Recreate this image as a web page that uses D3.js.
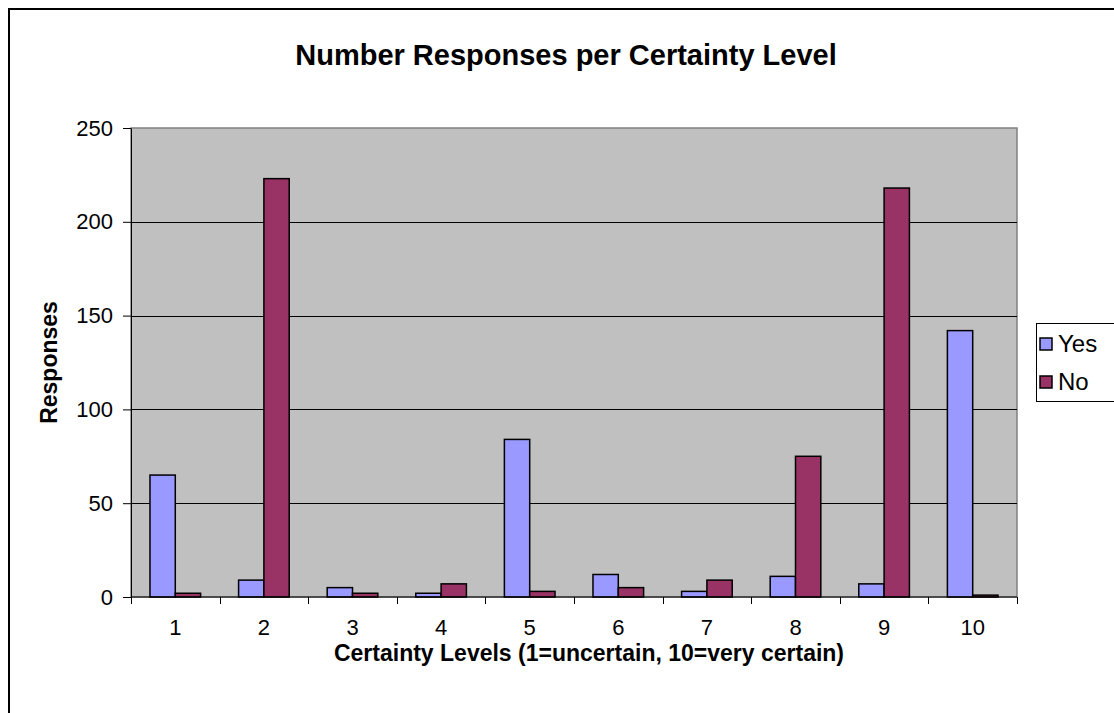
<!DOCTYPE html>
<html>
<head>
<meta charset="utf-8">
<script src="https://cdn.jsdelivr.net/npm/d3@7"></script>
<style>
  body { margin: 0; background: #ffffff; }
  #chart { width: 1114px; height: 713px; overflow: hidden; }
</style>
</head>
<body>
<div id="chart"></div>
<script>
const levels = ["1", "2", "3", "4", "5", "6", "7", "8", "9", "10"];
const seriesNames = ["Yes", "No"];
const yesValues = [65, 9, 5, 2, 84, 12, 3, 11, 7, 142];
const noValues = [2, 223, 2, 7, 3, 5, 9, 75, 218, 1];
const yTicks = [0, 50, 100, 150, 200, 250];

const colors = {Yes: "#9999ff", No: "#993366"};
const font = "Arial, 'Liberation Sans', sans-serif";

const margin = {top: 128, right: 97, bottom: 116, left: 131},
  width = 1114 - margin.left - margin.right,
  height = 713 - margin.top - margin.bottom;

const root = d3.select("#chart")
  .append("svg")
  .attr("width", 1114)
  .attr("height", 713);

// outer chart border (runs off the right and bottom edges)
root.append("rect")
  .attr("x", 9)
  .attr("y", 9)
  .attr("width", 1200)
  .attr("height", 800)
  .attr("fill", "#ffffff")
  .attr("stroke", "#000000")
  .attr("stroke-width", 2);

const svg = root.append("g")
  .attr("transform", `translate(${margin.left},${margin.top})`);

// title
root.append("text")
  .attr("x", 566)
  .attr("y", 65)
  .attr("text-anchor", "middle")
  .style("font-family", font)
  .style("font-size", "29px")
  .style("font-weight", "bold")
  .style("fill", "#000000")
  .text("Number Responses per Certainty Level");

const data = levels.map((l, i) => ({level: l, Yes: yesValues[i], No: noValues[i]}));

const x = d3.scaleBand()
  .domain(levels)
  .range([0, width])
  .padding(0);

// gap width 150% like the original
const xs = d3.scaleBand()
  .domain(seriesNames)
  .range([0, x.bandwidth()])
  .paddingInner(0)
  .paddingOuter(0.75);

const y = d3.scaleLinear()
  .domain([0, 250])
  .range([height, 0]);

// plot background
svg.append("rect")
  .attr("width", width)
  .attr("height", height)
  .attr("fill", "#c0c0c0")
  .attr("stroke", "#808080")
  .attr("stroke-width", 1.5);

// gridlines
svg.append("g")
  .selectAll("line")
  .data(yTicks.filter(t => t > 0 && t < 250))
  .enter()
  .append("line")
  .attr("x1", 0)
  .attr("x2", width)
  .attr("y1", d => Math.round(y(d)) + 0.5)
  .attr("y2", d => Math.round(y(d)) + 0.5)
  .attr("stroke", "#000000")
  .attr("stroke-width", 1);

// bars
const groups = svg.append("g")
  .selectAll("g")
  .data(data)
  .enter()
  .append("g")
  .attr("transform", d => `translate(${x(d.level)},0)`);

groups.selectAll("rect")
  .data(d => seriesNames.map(s => ({key: s, value: d[s]})))
  .enter()
  .append("rect")
  .attr("x", d => xs(d.key))
  .attr("y", d => y(d.value))
  .attr("width", xs.bandwidth())
  .attr("height", d => height - y(d.value))
  .attr("fill", d => colors[d.key])
  .attr("stroke", "#000000")
  .attr("stroke-width", 1.5);

// Y axis
svg.append("g")
  .call(d3.axisLeft(y)
    .tickValues(yTicks)
    .tickSize(8)
    .tickSizeOuter(0)
    .tickPadding(10))
  .call(g => g.selectAll("text")
    .style("font-family", font)
    .style("font-size", "22px")
    .style("fill", "#000000"))
  .call(g => g.selectAll("line, path").attr("stroke", "#000000"));

// X axis with ticks at category boundaries
const xAxis = svg.append("g")
  .attr("transform", `translate(0,${height})`);

xAxis.append("line")
  .attr("x1", 0)
  .attr("x2", width)
  .attr("stroke", "#000000");

xAxis.selectAll(".tick")
  .data(levels.concat(["end"]))
  .enter()
  .append("line")
  .attr("x1", (d, i) => Math.round(i * x.step()) + 0.5)
  .attr("x2", (d, i) => Math.round(i * x.step()) + 0.5)
  .attr("y1", 0)
  .attr("y2", 7)
  .attr("stroke", "#000000");

xAxis.selectAll("text")
  .data(levels)
  .enter()
  .append("text")
  .attr("x", d => x(d) + x.bandwidth() / 2)
  .attr("y", 38)
  .attr("text-anchor", "middle")
  .style("font-family", font)
  .style("font-size", "22px")
  .style("fill", "#000000")
  .text(d => d);

// axis labels
root.append("text")
  .attr("transform", `translate(57, ${margin.top + height / 2}) rotate(-90)`)
  .attr("text-anchor", "middle")
  .style("font-family", font)
  .style("font-size", "23px")
  .style("font-weight", "bold")
  .style("fill", "#000000")
  .text("Responses");

root.append("text")
  .attr("x", margin.left + width / 2 + 15)
  .attr("y", 661)
  .attr("text-anchor", "middle")
  .style("font-family", font)
  .style("font-size", "23px")
  .style("font-weight", "bold")
  .style("fill", "#000000")
  .text("Certainty Levels (1=uncertain, 10=very certain)");

// legend
const legend = root.append("g")
  .attr("transform", "translate(1036,323)");

legend.append("rect")
  .attr("x", 0.5)
  .attr("y", 0.5)
  .attr("width", 78)
  .attr("height", 78)
  .attr("fill", "#ffffff")
  .attr("stroke", "#000000");

const items = legend.selectAll(".item")
  .data(seriesNames)
  .enter()
  .append("g")
  .attr("transform", (d, i) => `translate(0,${21 + i * 38})`);

items.append("rect")
  .attr("x", 4)
  .attr("y", -6)
  .attr("width", 12)
  .attr("height", 12)
  .attr("fill", d => colors[d])
  .attr("stroke", "#000000")
  .attr("stroke-width", 1.5);

items.append("text")
  .attr("x", 22)
  .attr("y", 8)
  .style("font-family", font)
  .style("font-size", "24px")
  .style("fill", "#000000")
  .text(d => d);
</script>
</body>
</html>
